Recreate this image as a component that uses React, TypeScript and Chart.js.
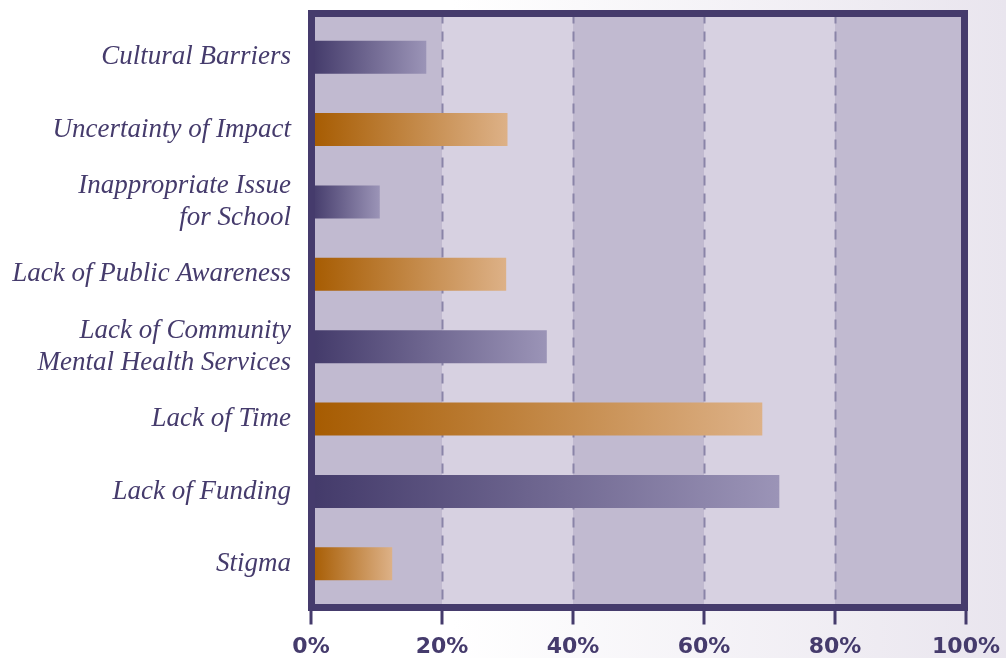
import React, { useEffect, useRef } from "react";
import { Chart, registerables } from "chart.js";

Chart.register(...registerables);

const categories: (string | string[])[] = [
  "Cultural Barriers",
  "Uncertainty of Impact",
  ["Inappropriate Issue", "for School"],
  "Lack of Public Awareness",
  ["Lack of Community", "Mental Health Services"],
  "Lack of Time",
  "Lack of Funding",
  "Stigma",
];
const values = [17.6, 30.0, 10.5, 29.8, 36.0, 68.9, 71.5, 12.4];
const barKinds = ["purple", "orange", "purple", "orange", "purple", "orange", "purple", "orange"];
const xTicks = [0, 20, 40, 60, 80, 100];

const INK = "#453b6c";
const BAND_DARK = "#c1bad0";
const BAND_LIGHT = "#d7d1e1";
const GRID = "#8a84a8";
const GRAD: Record<string, [string, string]> = {
  purple: ["#433a6a", "#9b94b7"],
  orange: ["#a65b00", "#ddb187"],
};

const framePlugin = {
  id: "framePlugin",
  beforeDatasetsDraw(chart: any) {
    const { ctx, chartArea } = chart;
    const xs = chart.scales.x;
    const top = chartArea.top - 7.5;
    const bottom = chartArea.bottom + 7.5;
    ctx.save();
    for (let i = 0; i < xTicks.length - 1; i++) {
      const a = xs.getPixelForValue(xTicks[i]);
      const b = xs.getPixelForValue(xTicks[i + 1]);
      ctx.fillStyle = i % 2 === 0 ? BAND_DARK : BAND_LIGHT;
      ctx.fillRect(a, top, b - a, bottom - top);
    }
    ctx.strokeStyle = GRID;
    ctx.lineWidth = 2;
    ctx.setLineDash([10, 8]);
    for (let i = 1; i < xTicks.length - 1; i++) {
      const x = Math.round(xs.getPixelForValue(xTicks[i])) + 0.5;
      ctx.beginPath();
      ctx.moveTo(x, top);
      ctx.lineTo(x, bottom);
      ctx.stroke();
    }
    ctx.restore();
  },
  afterDatasetsDraw(chart: any) {
    const { ctx, chartArea } = chart;
    const xs = chart.scales.x;
    const left = chartArea.left + 0.5;
    const right = chartArea.right - 1.5;
    const top = chartArea.top - 7.5;
    const bottom = chartArea.bottom + 7.5;
    ctx.save();
    ctx.strokeStyle = INK;
    ctx.lineWidth = 7;
    ctx.setLineDash([]);
    ctx.strokeRect(left, top, right - left, bottom - top);
    ctx.lineWidth = 3;
    for (const t of xTicks) {
      const x = xs.getPixelForValue(t);
      ctx.beginPath();
      ctx.moveTo(x, bottom);
      ctx.lineTo(x, bottom + 17);
      ctx.stroke();
    }
    ctx.restore();
  },
};

export default function App() {
  const ref = useRef<HTMLCanvasElement | null>(null);
  useEffect(() => {
    if (!ref.current) return;
    const chart = new Chart(ref.current, {
      type: "bar",
      data: {
        labels: categories,
        datasets: [
          {
            data: values,
            barPercentage: 0.456,
            categoryPercentage: 1,
            borderWidth: 0,
            backgroundColor: (c: any) => {
              const kind = barKinds[c.dataIndex] || "purple";
              const [c0, c1] = GRAD[kind];
              const ch = c.chart;
              if (!ch.chartArea || !ch.scales.x) return c0;
              const x0 = ch.scales.x.getPixelForValue(0);
              const x1 = ch.scales.x.getPixelForValue(values[c.dataIndex]);
              const g = ch.ctx.createLinearGradient(x0, 0, x1, 0);
              g.addColorStop(0, c0);
              g.addColorStop(1, c1);
              return g;
            },
          },
        ],
      },
      options: {
        indexAxis: "y",
        animation: false,
        responsive: false,
        maintainAspectRatio: false,
        layout: { padding: { top: 21, right: 40, left: 0, bottom: 0 } },
        plugins: { legend: { display: false }, tooltip: { enabled: false } },
        scales: {
          x: {
            min: 0,
            max: 100,
            afterBuildTicks: (s: any) => {
              s.ticks = xTicks.map((v) => ({ value: v }));
            },
            afterFit: (s: any) => {
              s.height = 58;
              s.paddingLeft = 0;
              s.paddingRight = 0;
            },
            grid: { display: false, drawTicks: false },
            border: { display: false },
            ticks: {
              padding: 34,
              color: INK,
              font: { family: "DejaVu Sans", weight: "bold", size: 22 },
              callback: (v: any) => v + "%",
              maxRotation: 0,
            },
          },
          y: {
            afterFit: (s: any) => {
              s.width = 311;
              s.paddingTop = 0;
              s.paddingBottom = 0;
            },
            grid: { display: false, drawTicks: false },
            border: { display: false },
            ticks: {
              padding: 20,
              color: INK,
              font: { family: "Liberation Serif", style: "italic", size: 27, lineHeight: 1.2 },
            },
          },
        },
      },
      plugins: [framePlugin],
    } as any);
    return () => chart.destroy();
  }, []);
  return (
    <div
      style={{
        position: "fixed",
        left: 0,
        top: 0,
        width: 1006,
        height: 658,
        background: "linear-gradient(to right, #ffffff 45%, #e9e5ee 100%)",
      }}
    >
      <canvas ref={ref} width={1006} height={658} style={{ display: "block" }} />
    </div>
  );
}
